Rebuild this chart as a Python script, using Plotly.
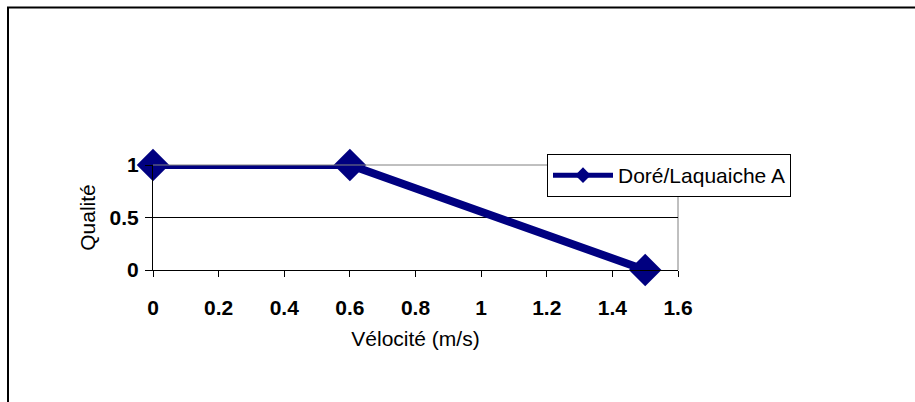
import plotly.graph_objects as go

velocity = [0, 0.6, 1.5]
quality = [1, 1, 0]
series_name = "Doré/Laquaiche A"
x_ticks = [0, 0.2, 0.4, 0.6, 0.8, 1, 1.2, 1.4, 1.6]
x_tick_labels = ["0", "0.2", "0.4", "0.6", "0.8", "1", "1.2", "1.4", "1.6"]
y_ticks = [0, 0.5, 1]
y_tick_labels = ["0", "0.5", "1"]

L, R, T, B = 153, 915 - 678, 165, 402 - 270
W, H = 915, 402
pw, ph = W - L - R, H - T - B

def px_x(p):
    return (p - L) / pw

def px_y(p):
    return (H - B - p) / ph

fig = go.Figure()
fig.add_trace(go.Scatter(
    x=velocity, y=quality, name=series_name, mode="lines+markers",
    line=dict(color="#000080", width=8),
    marker=dict(symbol="diamond", size=25, color="#000080"),
    cliponaxis=False,
))

font = "Liberation Sans, Arial, sans-serif"
fig.update_layout(
    width=W, height=H,
    margin=dict(l=L, r=R, t=T, b=B),
    paper_bgcolor="white", plot_bgcolor="white",
    showlegend=True,
    legend=dict(
        x=px_x(547), y=px_y(154), xanchor="left", yanchor="top",
        bordercolor="black", borderwidth=1, bgcolor="white",
        font=dict(family=font, size=21, color="black"),
        itemwidth=60, tracegroupgap=0, itemsizing="constant",
    ),
    xaxis=dict(
        range=[0, 1.6], tickvals=x_ticks, ticktext=x_tick_labels,
        showgrid=False, zeroline=False, showline=True, linecolor="black", linewidth=1,
        ticks="outside", ticklen=6, tickcolor="black",
        tickfont=dict(family=font, size=21, color="black", weight="bold"),
        ticklabelstandoff=13,
        title=dict(text="Vélocité (m/s)", font=dict(family=font, size=21, color="black"), standoff=13),
    ),
    yaxis=dict(
        range=[0, 1], tickvals=y_ticks, ticktext=y_tick_labels,
        showgrid=True, gridcolor="black", gridwidth=1, zeroline=False,
        showline=True, linecolor="black", linewidth=1,
        ticks="outside", ticklen=7, tickcolor="black",
        tickfont=dict(family=font, size=21, color="black", weight="bold"),
        ticklabelstandoff=2,
        title=dict(text="Qualité", font=dict(family=font, size=21, color="black"), standoff=8),
    ),
    shapes=[
        dict(type="line", xref="paper", yref="paper", x0=0, x1=1, y0=1, y1=1,
             line=dict(color="#808080", width=1), layer="above"),
        dict(type="line", xref="paper", yref="paper", x0=1, x1=1, y0=0, y1=1,
             line=dict(color="#808080", width=1), layer="below"),
        dict(type="rect", xref="paper", yref="paper",
             x0=px_x(8), x1=px_x(930), y0=px_y(7.5), y1=px_y(420),
             line=dict(color="black", width=2), layer="below"),
    ],
)

fig.write_html("out.html")
